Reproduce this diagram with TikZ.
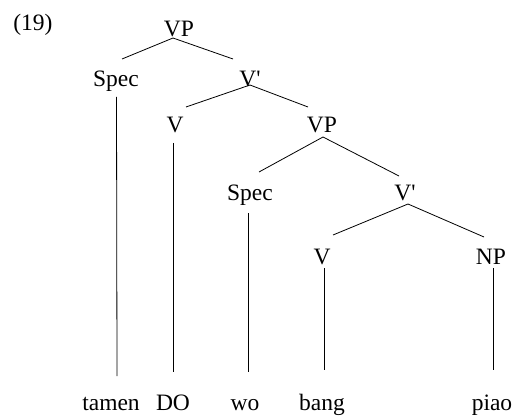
\documentclass[tikz,border=0pt]{standalone}
\usepackage{fontspec}
\setmainfont{Liberation Serif}
\begin{document}
\begin{tikzpicture}[x=1pt,y=-1pt,
  lbl/.style={anchor=base,inner sep=0pt,font=\fontsize{23.5}{27}\selectfont},
  edge/.style={line width=0.8pt,black}]
\useasboundingbox (0,0) rectangle (514,417);
\node[lbl] (num) at (33,31) {(19)};
\node[lbl] (VPa) at (179,37) {VP};
\node[lbl] (SpecA) at (116,87) {Spec};
\node[lbl] (VbA) at (250,87) {V\textquotesingle};
\node[lbl] (Va) at (175,132) {V};
\node[lbl] (VPb) at (322,132) {VP};
\node[lbl] (SpecB) at (250,200) {Spec};
\node[lbl] (VbB) at (405,200) {V\textquotesingle};
\node[lbl] (Vb) at (322,264) {V};
\node[lbl] (NP) at (491,264) {NP};
\node[lbl] (tamen) at (111,410) {tamen};
\node[lbl] (DO) at (173,410) {DO};
\node[lbl] (wo) at (245,410) {wo};
\node[lbl] (bang) at (322,410) {bang};
\node[lbl] (piao) at (492,410) {piao};
\draw[edge] ([xshift=-6pt,yshift=-1pt]VPa.base) -- ([xshift=6pt,yshift=28pt]SpecA.base);
\draw[edge] ([xshift=-6pt,yshift=-1pt]VPa.base) -- ([xshift=-17pt,yshift=28pt]VbA.base);
\draw[edge] ([xshift=0.5pt,yshift=-10pt]SpecA.base) -- ([xshift=6pt,yshift=34pt]tamen.base);
\draw[edge] ([yshift=2pt]VbA.base) -- ([xshift=11pt,yshift=25pt]Va.base);
\draw[edge] ([yshift=2pt]VbA.base) -- ([xshift=-14pt,yshift=25pt]VPb.base);
\draw[edge] ([xshift=-2pt,yshift=-11pt]Va.base) -- ([yshift=38pt]DO.base);
\draw[edge] ([xshift=1pt,yshift=-5pt]VPb.base) -- ([xshift=9pt,yshift=28pt]SpecB.base);
\draw[edge] ([xshift=1pt,yshift=-5pt]VPb.base) -- ([xshift=-6pt,yshift=24pt]VbB.base);
\draw[edge] ([xshift=-2pt,yshift=-13pt]SpecB.base) -- ([xshift=3pt,yshift=38pt]wo.base);
\draw[edge] ([xshift=3pt,yshift=-4pt]VbB.base) -- ([xshift=11pt,yshift=29pt]Vb.base);
\draw[edge] ([xshift=3pt,yshift=-4pt]VbB.base) -- ([xshift=-7pt,yshift=27pt]NP.base);
\draw[edge] ([xshift=2pt,yshift=-4pt]Vb.base) -- ([xshift=2pt,yshift=40pt]bang.base);
\draw[edge] ([xshift=2pt,yshift=-4pt]NP.base) -- ([xshift=1pt,yshift=40pt]piao.base);
\end{tikzpicture}
\end{document}
